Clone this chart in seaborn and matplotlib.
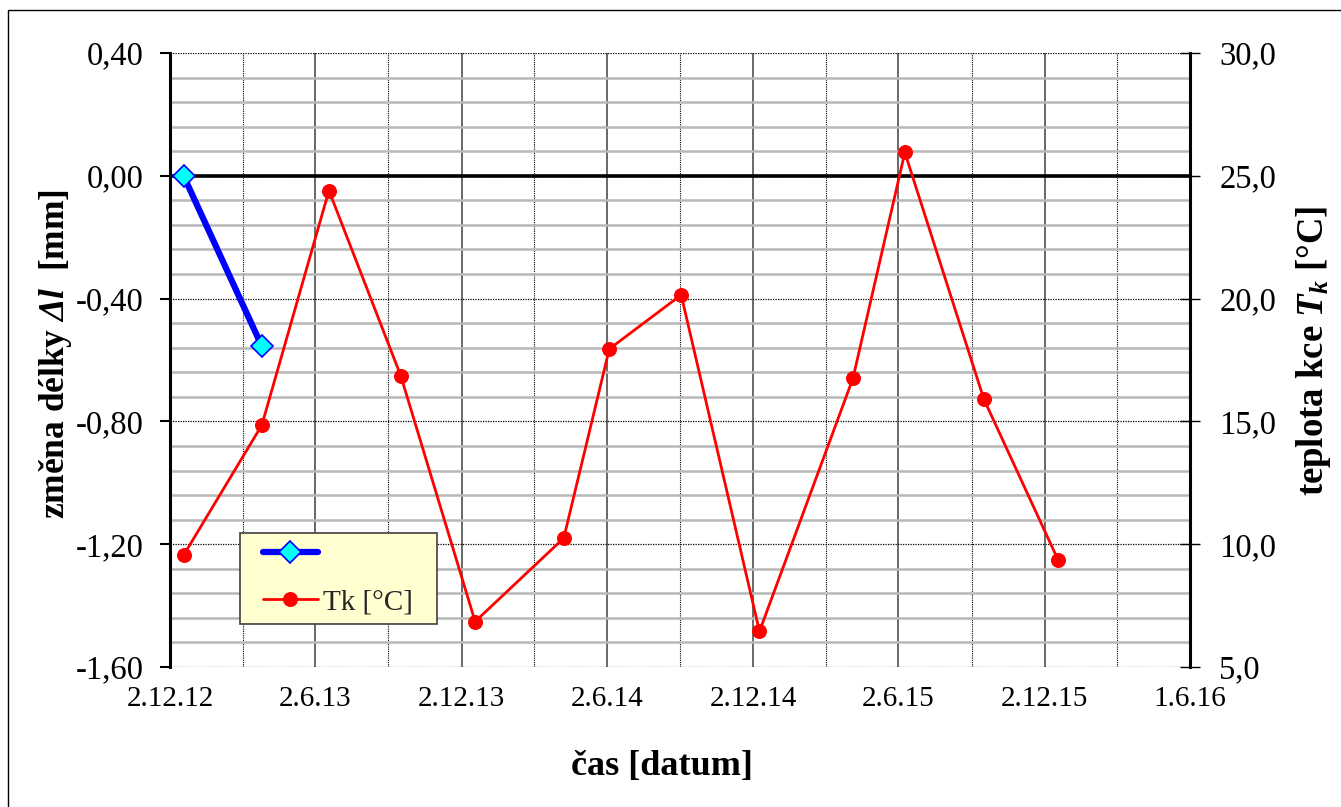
import numpy as np
import pandas as pd
import matplotlib
matplotlib.use("Agg")
import matplotlib.pyplot as plt
import matplotlib.dates as mdates
from matplotlib.patches import Rectangle
from matplotlib.lines import Line2D
from matplotlib.legend_handler import HandlerLine2D
from matplotlib.ticker import MultipleLocator, FixedLocator, FuncFormatter
import seaborn as sns

# delta l (left axis, mm)
dl_dates = ["19.12.2012", "27.03.2013"]
dl_values = [0.00, -0.555]

# Tk (right axis, deg C)
tk_dates = ["19.12.2012", "27.03.2013", "19.06.2013", "17.09.2013", "19.12.2013",
            "09.04.2014", "05.06.2014", "03.09.2014", "10.12.2014", "06.04.2015",
            "10.06.2015", "17.09.2015", "19.12.2015"]
tk_values = [9.55, 14.85, 24.4, 16.85, 6.85, 10.25, 17.95, 20.15, 6.45, 16.75,
             25.95, 15.9, 9.35]

tick_dates = ["02.12.2012", "02.06.2013", "02.12.2013", "02.06.2014",
              "02.12.2014", "02.06.2015", "02.12.2015", "01.06.2016"]
tick_labels = ["2.12.12", "2.6.13", "2.12.13", "2.6.14", "2.12.14", "2.6.15",
               "2.12.15", "1.6.16"]


def to_dt(lst):
    return pd.to_datetime(lst, format="%d.%m.%Y")


def main():
    sns.set_theme(style="white")
    plt.rcParams["font.family"] = ["Liberation Serif", "DejaVu Serif"]
    plt.rcParams["mathtext.fontset"] = "custom"
    plt.rcParams["mathtext.rm"] = "Liberation Serif"
    plt.rcParams["mathtext.it"] = "Liberation Serif:italic"
    plt.rcParams["mathtext.bf"] = "Liberation Serif:bold"
    plt.rcParams["mathtext.bfit"] = "Liberation Serif:italic:bold"

    df_dl = pd.DataFrame({"date": to_dt(dl_dates), "dl": dl_values})
    df_tk = pd.DataFrame({"date": to_dt(tk_dates), "tk": tk_values})

    fig = plt.figure(figsize=(13.41, 8.07), dpi=100, facecolor="white")
    fig.patches.append(Rectangle((8 / 1341, -0.1), 1.2, (807 - 10) / 807 + 0.1,
                                 transform=fig.transFigure, fill=False,
                                 edgecolor="black", lw=1.0))
    ax = fig.add_axes([170 / 1341, 140 / 807, 1020 / 1341, 614 / 807])
    ax2 = ax.twinx()

    sns.lineplot(data=df_dl, x="date", y="dl", ax=ax, color="#0000FF", lw=4.5,
                 marker="D", markersize=11, markerfacecolor="#00FFFF",
                 markeredgecolor="#0000FF", markeredgewidth=1.2,
                 label=" ", legend=False, zorder=5)
    sns.lineplot(data=df_tk, x="date", y="tk", ax=ax2, color="#FF0000", lw=2,
                 marker="o", markersize=10, markerfacecolor="#FF0000",
                 markeredgecolor="#FF0000", label="Tk [°C]", legend=False)

    ticks = to_dt(tick_dates)
    tnum = mdates.date2num(ticks)
    minor = (tnum[:-1] + tnum[1:]) / 2
    ax.set_xlim(tnum[0], tnum[-1])
    ax.xaxis.set_major_locator(FixedLocator(tnum))
    ax.xaxis.set_minor_locator(FixedLocator(minor))
    ax.set_xticklabels(tick_labels)

    ax.set_ylim(-1.6, 0.4)
    ax.yaxis.set_major_locator(MultipleLocator(0.4))
    ax.yaxis.set_minor_locator(MultipleLocator(0.08))
    ax.yaxis.set_major_formatter(FuncFormatter(lambda v, p: f"{v:.2f}".replace(".", ",")))
    ax2.set_ylim(5, 30)
    ax2.yaxis.set_major_locator(MultipleLocator(5))
    ax2.yaxis.set_major_formatter(FuncFormatter(lambda v, p: f"{v:.1f}".replace(".", ",")))

    ax.set_axisbelow(True)
    ax.grid(which="major", axis="y", color="black", ls=(0, (1, 1)), lw=0.9)
    ax.grid(which="minor", axis="y", color="#B8B8B8", ls="-", lw=1.8)
    ax.grid(which="major", axis="x", color="#404040", ls="-", lw=1.1)
    ax.grid(which="minor", axis="x", color="black", ls=(0, (1, 1)), lw=0.8)
    ax.axhline(0, color="black", lw=2.6, zorder=2)

    for a in (ax, ax2):
        for s in ("top", "bottom", "left", "right"):
            a.spines[s].set_visible(False)
    ax.spines["left"].set_visible(True)
    ax.spines["left"].set_linewidth(2.2)
    ax.spines["left"].set_color("black")
    ax2.spines["right"].set_visible(True)
    ax2.spines["right"].set_linewidth(2.2)
    ax2.spines["right"].set_color("black")

    ax.tick_params(axis="x", which="both", length=0, pad=14, labelsize=21,
                   colors="black")
    ax.tick_params(axis="y", which="major", direction="out", length=7, width=1.5,
                   left=True, pad=12, labelsize=23.5, colors="black")
    ax.tick_params(axis="y", which="minor", length=0)
    ax2.tick_params(axis="y", which="major", direction="inout", length=14,
                    width=1.0, right=True, pad=14, labelsize=23.5, colors="black")
    ax2.tick_params(axis="y", which="minor", length=0)

    ax.set_xlabel("čas [datum]", fontsize=26, fontweight="bold", color="black")
    ax.xaxis.set_label_coords((662 - 170) / 1020, -0.135)
    ax.set_ylabel(r"změna délky $\mathbfit{\Delta l}$  [mm]", fontsize=25.5,
                  fontweight="bold", color="black")
    ax.yaxis.set_label_coords(-0.094, 0.51)
    ax2.set_ylabel(r"teplota kce $\mathbfit{T}_{\mathbfit{k}}$ [°C]", fontsize=26.5,
                   fontweight="bold", color="black")
    ax2.yaxis.set_label_coords((1294 - 170) / 1020, 0.515)

    h1, l1 = ax.get_legend_handles_labels()
    h2, l2 = ax2.get_legend_handles_labels()
    # push the legend handles a bit to the right, as in the original
    shift = HandlerLine2D(xpad=0.49)
    leg = ax2.legend(h1 + h2, l1 + l2, loc="lower left",
                     bbox_to_anchor=(70 / 1020, 43 / 614, 197 / 1020, 97 / 614),
                     mode="expand", borderaxespad=0, fontsize=21, frameon=True,
                     fancybox=False, framealpha=1, facecolor="#FFFFD0",
                     edgecolor="#404040", handlelength=2.37, handletextpad=0.17,
                     labelspacing=0.7, borderpad=0.3,
                     handler_map={Line2D: shift})
    leg.get_frame().set_linewidth(1.2)
    leg.set_zorder(10)

    fig.savefig("out.png", dpi=100, facecolor="white")


if __name__ == "__main__":
    main()
